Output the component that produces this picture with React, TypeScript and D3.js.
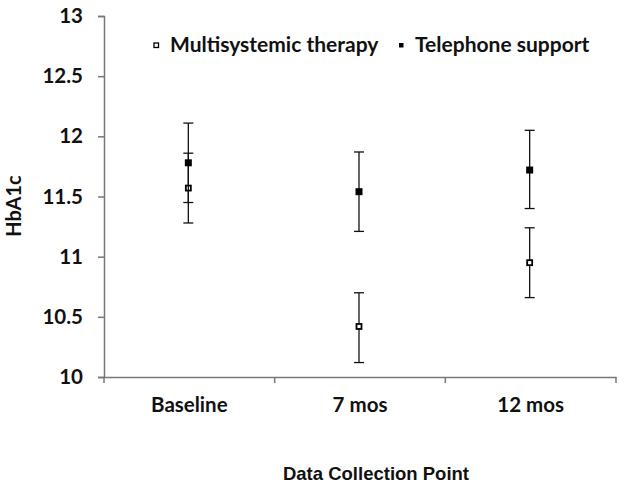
import React, { useEffect, useRef } from "react";
import * as d3 from "d3";

// data
const categories = ["Baseline", "7 mos", "12 mos"];
const mstMean = [11.57, 10.42, 10.95];
const mstLow = [11.28, 10.12, 10.66];
const mstHigh = [11.86, 10.7, 11.24];
const telMean = [11.78, 11.54, 11.72];
const telLow = [11.45, 11.21, 11.4];
const telHigh = [12.11, 11.87, 12.05];
const yTicks = [10, 10.5, 11, 11.5, 12, 12.5, 13];

const App = () => {
  const svgRef = useRef<SVGSVGElement>(null);

  useEffect(() => {
    const svg = d3.select(svgRef.current);
    svg.selectAll("*").remove();

    const left = 104;
    const right = 616;
    const top = 16;
    const bottom = 377;
    const font = "Lato, 'Open Sans', sans-serif";
    const fs = 20.5;

    const x = d3.scaleBand().domain(categories).range([left, right]);
    const y = d3.scaleLinear().domain([10, 13]).range([bottom, top]);

    // y axis
    const yAxis = svg
      .append("g")
      .attr("transform", `translate(${left},0)`)
      .call(d3.axisLeft(y).tickValues(yTicks).tickSize(6).tickPadding(15).tickFormat(d3.format("")));
    yAxis.select(".domain").attr("stroke", "#777").attr("stroke-width", 1.5);
    yAxis.selectAll(".tick line").attr("stroke", "#777").attr("stroke-width", 1.5);
    yAxis
      .selectAll(".tick text")
      .attr("font-family", font)
      .attr("font-weight", "bold")
      .attr("font-size", fs)
      .attr("fill", "#111");

    // x axis
    const xAxis = svg
      .append("g")
      .attr("transform", `translate(0,${bottom})`)
      .call(d3.axisBottom(x).tickSize(0).tickPadding(20));
    xAxis.select(".domain").attr("stroke", "#777").attr("stroke-width", 1.5);
    xAxis
      .selectAll(".tick text")
      .attr("font-family", font)
      .attr("font-weight", "bold")
      .attr("font-size", fs)
      .attr("fill", "#111");
    // boundary ticks between categories
    const bounds = [left, ...categories.map((c) => (x(c) as number) + x.bandwidth())];
    svg
      .append("g")
      .selectAll("line")
      .data(bounds)
      .join("line")
      .attr("x1", (d) => d)
      .attr("x2", (d) => d)
      .attr("y1", bottom)
      .attr("y2", bottom + 6)
      .attr("stroke", "#777")
      .attr("stroke-width", 1.5);

    const cx = (i: number) => (x(categories[i]) as number) + x.bandwidth() / 2 - 1;

    const drawSeries = (mean: number[], low: number[], high: number[], filled: boolean) => {
      const g = svg.append("g");
      mean.forEach((m, i) => {
        const px = cx(i);
        g.append("line")
          .attr("x1", px)
          .attr("x2", px)
          .attr("y1", y(low[i]))
          .attr("y2", y(high[i]))
          .attr("stroke", "#111")
          .attr("stroke-width", 1.3);
        [low[i], high[i]].forEach((v) => {
          g.append("line")
            .attr("x1", px - 5)
            .attr("x2", px + 5)
            .attr("y1", y(v))
            .attr("y2", y(v))
            .attr("stroke", "#111")
            .attr("stroke-width", 1.3);
        });
        const s = filled ? 7 : 5;
        g.append("rect")
          .attr("x", px - s / 2)
          .attr("y", y(m) - s / 2)
          .attr("width", s)
          .attr("height", s)
          .attr("fill", filled ? "#000" : "#fff")
          .attr("stroke", "#000")
          .attr("stroke-width", filled ? 0 : 1.8);
      });
    };
    drawSeries(mstMean, mstLow, mstHigh, false);
    drawSeries(telMean, telLow, telHigh, true);

    // legend
    const legend = [
      { label: "Multisystemic therapy", filled: false, x: 156 },
      { label: "Telephone support", filled: true, x: 401 },
    ];
    legend.forEach((l) => {
      svg
        .append("rect")
        .attr("x", l.x - 2)
        .attr("y", 43)
        .attr("width", 4.5)
        .attr("height", 4.5)
        .attr("fill", l.filled ? "#000" : "#fff")
        .attr("stroke", "#000")
        .attr("stroke-width", l.filled ? 0 : 1.3);
      svg
        .append("text")
        .attr("x", l.x + 14)
        .attr("y", 52)
        .attr("font-family", font)
        .attr("font-weight", "bold")
        .attr("font-size", 21)
        .attr("fill", "#111")
        .text(l.label);
    });

    // axis titles
    svg
      .append("text")
      .attr("x", 376)
      .attr("y", 480)
      .attr("text-anchor", "middle")
      .attr("font-family", "Arial, 'Liberation Sans', sans-serif")
      .attr("font-weight", "bold")
      .attr("font-size", 18.5)
      .attr("fill", "#111")
      .text("Data Collection Point");

    svg
      .append("text")
      .attr("transform", `translate(21,206) rotate(-90)`)
      .attr("text-anchor", "middle")
      .attr("font-family", font)
      .attr("font-weight", "bold")
      .attr("font-size", 20)
      .attr("fill", "#111")
      .text("HbA1c");
  }, []);

  return (
    <svg
      ref={svgRef}
      width={624}
      height={487}
      style={{ position: "absolute", left: 0, top: 0, background: "#fff" }}
    ></svg>
  );
};

export default App;
